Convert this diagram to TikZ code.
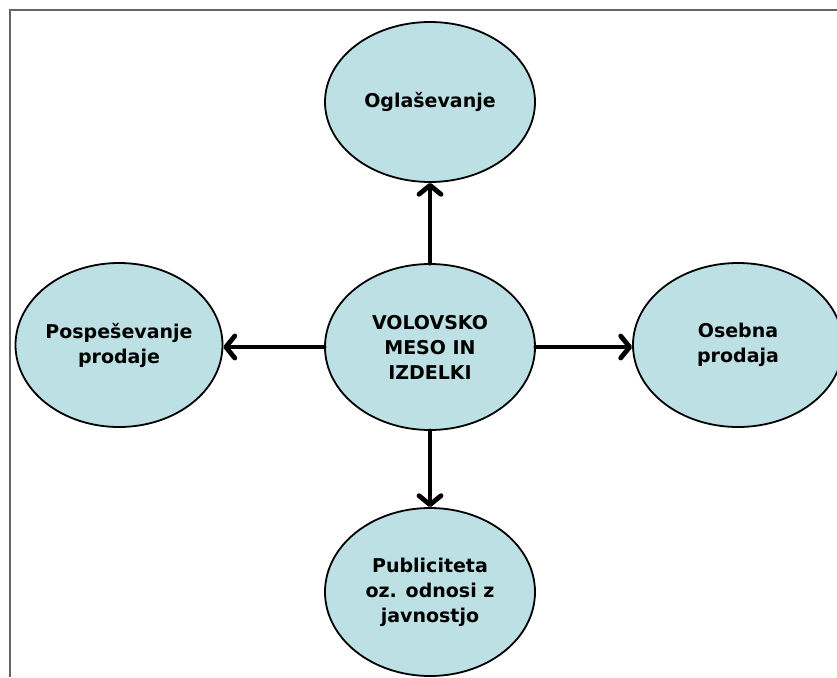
\documentclass[tikz,border=0pt]{standalone}
\usepackage{fontspec}
\setmainfont{DejaVu Sans}
\usetikzlibrary{shapes.geometric,arrows.meta}
\definecolor{bubble}{RGB}{188,224,227}
\definecolor{framegray}{RGB}{100,100,100}
\begin{document}
\begin{tikzpicture}[x=1pt,y=-1pt,
  bubble/.style={ellipse,draw=black,line width=1.8pt,fill=bubble,inner ysep=0pt,inner xsep=-30pt,
    minimum width=210pt,minimum height=166pt,align=center,
    font=\bfseries\fontsize{19}{25}\selectfont},
  conn/.style={line width=4.8pt,line cap=round,line join=round,
    -{Straight Barb[length=9pt,width=22pt,line cap=round,line join=round]}}]
\useasboundingbox (0,0) rectangle (837,677);
\fill[white] (0,0) rectangle (837,677);
\draw[framegray,line width=2.2pt] (10,677) -- (10,10) -- (837,10);
\node[bubble] (c) at (430,347) {VOLOVSKO\\MESO IN\\IZDELKI};
\node[bubble,minimum height=160pt] (t) at (430,102) {Oglaševanje};
\node[bubble,minimum height=164pt,minimum width=207pt] (l) at (119,345) {Pospeševanje\\prodaje};
\node[bubble,minimum height=164pt] (r) at (738,345) {Osebna\\prodaja};
\node[bubble,minimum height=168pt] (b) at (430,592) {Publiciteta\\oz. odnosi z\\javnostjo};
\draw[conn] (c.north) -- (t.south);
\draw[conn] (c.west |- 0,347) -- (l.east |- 0,347);
\draw[conn] (c.east |- 0,347) -- (r.west |- 0,347);
\draw[conn] (c.south) -- (b.north);
\end{tikzpicture}
\end{document}
